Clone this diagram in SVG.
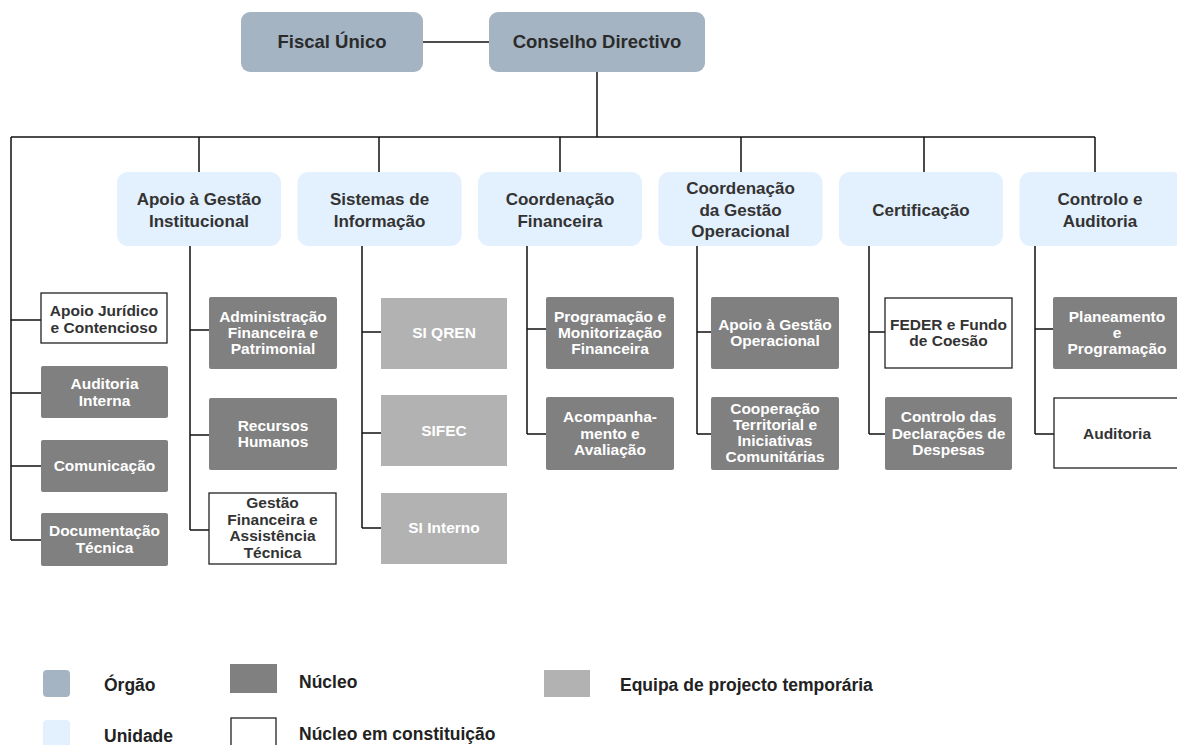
<svg xmlns="http://www.w3.org/2000/svg" width="1177" height="745" viewBox="0 0 1177 745">
<style>
text{font-family:"Liberation Sans",Arial,sans-serif;font-weight:bold;text-anchor:middle}
.org{fill:#a4b4c3}
.uni{fill:#e3f0fd}
.nuc{fill:#808080}
.eq{fill:#b2b2b2}
.wh{fill:#fff;stroke:#222;stroke-width:1.3}
.t-top{font-size:18.5px;fill:#2b2b2b}
.t-uni{font-size:17px;fill:#333}
.t-w{font-size:15.5px;fill:#fff}
.t-d{font-size:15.5px;fill:#333}
.t-leg{font-size:17.5px;fill:#222;text-anchor:start}
.ln{stroke:#111;stroke-width:1.5;fill:none}
</style>
<g id="connectors" class="ln">
<path d="M423 42H489"/>
<path d="M597 72V137"/>
<path d="M11 137H1095"/>
<path d="M199 137V172M379 137V172M560 137V172M741 137V172M924 137V172M1095 137V172"/>
<path d="M11 137V540M11 320H41M11 393H41M11 466H41M11 540H41"/>
<path d="M190 246V530M190 330H209M190 435H209M190 530H209"/>
<path d="M362 246V528M362 332H381M362 433H381M362 528H381"/>
<path d="M527 246V434M527 329H546M527 434H546"/>
<path d="M697 246V434M697 332H711M697 434H711"/>
<path d="M869 246V434M869 332H885M869 434H885"/>
<path d="M1035 246V434M1035 329H1053M1035 434H1054"/>
</g>
<g id="fiscal-unico"><rect class="org" x="241" y="12" width="182" height="60" rx="9"/><text class="t-top" x="332" y="48">Fiscal Único</text></g>
<g id="conselho-directivo"><rect class="org" x="489" y="12" width="216" height="60" rx="9"/><text class="t-top" x="597" y="48">Conselho Directivo</text></g>

<g id="u-apoio-gestao-inst"><rect class="uni" x="117" y="172" width="164" height="74" rx="11"/><text class="t-uni" x="199" y="205">Apoio à Gestão<tspan x="199" dy="22">Institucional</tspan></text></g>
<g id="u-sistemas-info"><rect class="uni" x="297.5" y="172" width="164" height="74" rx="11"/><text class="t-uni" x="379.5" y="205">Sistemas de<tspan x="379.5" dy="22">Informação</tspan></text></g>
<g id="u-coord-fin"><rect class="uni" x="478" y="172" width="164" height="74" rx="11"/><text class="t-uni" x="560" y="205">Coordenação<tspan x="560" dy="22">Financeira</tspan></text></g>
<g id="u-coord-gest-op"><rect class="uni" x="658.5" y="172" width="164" height="74" rx="11"/><text class="t-uni" x="740.5" y="194">Coordenação<tspan x="740.5" dy="21.5">da Gestão</tspan><tspan x="740.5" dy="21.5">Operacional</tspan></text></g>
<g id="u-certificacao"><rect class="uni" x="839" y="172" width="164" height="74" rx="11"/><text class="t-uni" x="921" y="216">Certificação</text></g>
<g id="u-controlo-auditoria"><rect class="uni" x="1019.5" y="172" width="164" height="74" rx="11"/><text class="t-uni" x="1100" y="205">Controlo e<tspan x="1100" dy="22">Auditoria</tspan></text></g>

<g id="n-apoio-juridico"><rect class="wh" x="41" y="293" width="126" height="50"/><text class="t-d" x="104" y="316">Apoio Jurídico<tspan x="104" dy="17">e Contencioso</tspan></text></g>
<g id="n-auditoria-interna"><rect class="nuc" x="41" y="366" width="127" height="52" rx="2"/><text class="t-w" x="104.5" y="389">Auditoria<tspan x="104.5" dy="17">Interna</tspan></text></g>
<g id="n-comunicacao"><rect class="nuc" x="41" y="440" width="127" height="52" rx="2"/><text class="t-w" x="104.5" y="471">Comunicação</text></g>
<g id="n-documentacao"><rect class="nuc" x="41" y="513" width="127" height="53" rx="2"/><text class="t-w" x="104.5" y="536">Documentação<tspan x="104.5" dy="17">Técnica</tspan></text></g>

<g id="n-admin-fin"><rect class="nuc" x="209" y="297" width="128" height="72" rx="2"/><text class="t-w" x="273" y="322">Administração<tspan x="273" dy="16">Financeira e</tspan><tspan x="273" dy="16">Patrimonial</tspan></text></g>
<g id="n-recursos-humanos"><rect class="nuc" x="209" y="398" width="128" height="72" rx="2"/><text class="t-w" x="273" y="431">Recursos<tspan x="273" dy="16">Humanos</tspan></text></g>
<g id="n-gestao-fin-at"><rect class="wh" x="209" y="493" width="127" height="71"/><text class="t-d" x="272.5" y="508">Gestão<tspan x="272.5" dy="16.7">Financeira e</tspan><tspan x="272.5" dy="16.7">Assistência</tspan><tspan x="272.5" dy="16.7">Técnica</tspan></text></g>

<g id="e-si-qren"><rect class="eq" x="381" y="298" width="126" height="71"/><text class="t-w" x="444" y="338">SI QREN</text></g>
<g id="e-sifec"><rect class="eq" x="381" y="395" width="126" height="71"/><text class="t-w" x="444" y="436">SIFEC</text></g>
<g id="e-si-interno"><rect class="eq" x="381" y="493" width="126" height="71"/><text class="t-w" x="444" y="533">SI Interno</text></g>

<g id="n-prog-monit"><rect class="nuc" x="546" y="297" width="128" height="72" rx="2"/><text class="t-w" x="610" y="322">Programação e<tspan x="610" dy="16">Monitorização</tspan><tspan x="610" dy="16">Financeira</tspan></text></g>
<g id="n-acompanhamento"><rect class="nuc" x="546" y="397" width="128" height="73" rx="2"/><text class="t-w" x="610" y="422">Acompanha-<tspan x="610" dy="16.5">mento e</tspan><tspan x="610" dy="16.5">Avaliação</tspan></text></g>

<g id="n-apoio-gest-op"><rect class="nuc" x="711" y="297" width="128" height="72" rx="2"/><text class="t-w" x="775" y="330">Apoio à Gestão<tspan x="775" dy="16">Operacional</tspan></text></g>
<g id="n-cooperacao"><rect class="nuc" x="711" y="397" width="128" height="73" rx="2"/><text class="t-w" x="775" y="414">Cooperação<tspan x="775" dy="16">Territorial e</tspan><tspan x="775" dy="16">Iniciativas</tspan><tspan x="775" dy="16">Comunitárias</tspan></text></g>

<g id="n-feder"><rect class="wh" x="885" y="298" width="127" height="70"/><text class="t-d" x="948.5" y="330">FEDER e Fundo<tspan x="948.5" dy="16">de Coesão</tspan></text></g>
<g id="n-controlo-decl"><rect class="nuc" x="885" y="397" width="127" height="73" rx="2"/><text class="t-w" x="948.5" y="422">Controlo das<tspan x="948.5" dy="16.5">Declarações de</tspan><tspan x="948.5" dy="16.5">Despesas</tspan></text></g>

<g id="n-planeamento"><rect class="nuc" x="1053" y="297" width="128" height="72" rx="2"/><text class="t-w" x="1117" y="322">Planeamento<tspan x="1117" dy="16">e</tspan><tspan x="1117" dy="16">Programação</tspan></text></g>
<g id="n-auditoria"><rect class="wh" x="1054" y="398" width="128" height="70"/><text class="t-d" x="1117" y="439">Auditoria</text></g>

<g id="legend">
<rect class="org" x="43" y="670" width="27" height="27" rx="4"/><text class="t-leg" x="104" y="691">Órgão</text>
<rect class="uni" x="43" y="720" width="27" height="30" rx="4"/><text class="t-leg" x="104" y="742">Unidade</text>
<rect class="nuc" x="230" y="664" width="47" height="29"/><text class="t-leg" x="299" y="688">Núcleo</text>
<rect class="wh" x="231" y="718" width="45" height="32"/><text class="t-leg" x="299" y="740">Núcleo em constituição</text>
<rect class="eq" x="544" y="670" width="46" height="27"/><text class="t-leg" x="620" y="691">Equipa de projecto temporária</text>
</g>
</svg>
